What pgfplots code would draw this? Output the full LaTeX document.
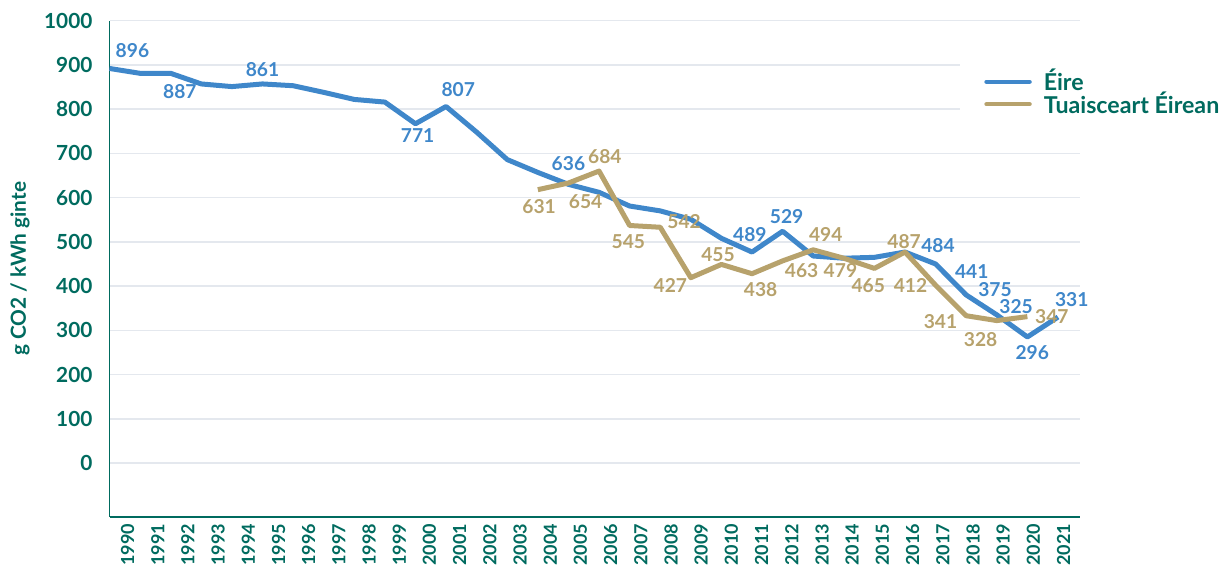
\documentclass[border=0pt]{standalone}
\usepackage{pgfplots}
\pgfplotsset{compat=1.18}
\usepackage{fontspec}
\setmainfont{Lato}
\definecolor{tealc}{HTML}{006B5F}
\definecolor{blueL}{HTML}{3F87CA}
\definecolor{goldL}{HTML}{B7A26C}
\definecolor{gridc}{HTML}{E4E8EE}
\begin{document}
\begin{tikzpicture}
\useasboundingbox (0,0) rectangle (615pt,285.5pt);
\begin{axis}[
  at={(54.75pt,27pt)}, anchor=south west,
  scale only axis, width=485.25pt, height=248.15pt,
  xmin=1990, xmax=2021.72, ymin=-122, ymax=1000,
  axis x line=bottom, axis y line=left,
  axis line style={tealc, line width=0.8pt, -},
  ytick={0,100,...,1000}, ymajorgrids,
  grid style={gridc, line width=0.75pt},
  xtick={1990.360,1991.347,1992.334,1993.321,1994.308,1995.295,1996.282,1997.268,1998.255,1999.242,2000.229,2001.216,2002.203,2003.190,2004.177,2005.164,2006.151,2007.138,2008.125,2009.111,2010.098,2011.085,2012.072,2013.059,2014.046,2015.033,2016.020,2017.007,2017.994,2018.981,2019.968,2020.955},
  xticklabels={1990,1991,1992,1993,1994,1995,1996,1997,1998,1999,2000,2001,2002,2003,2004,2005,2006,2007,2008,2009,2010,2011,2012,2013,2014,2015,2016,2017,2018,2019,2020,2021},
  major tick length=0pt,
  xticklabel style={rotate=90, anchor=east, yshift=-3.5pt, font=\fontsize{9}{10}\selectfont\bfseries, text=tealc},
  yticklabel style={anchor=east, xshift=-5pt, font=\fontsize{10.4}{11}\selectfont\bfseries, text=tealc},
  /pgf/number format/assume math mode=true,
  /pgf/number format/set thousands separator={},
  ylabel={g CO2 / kWh ginte},
  ylabel style={at={(axis description cs:0,0.5)}, yshift=44.75pt, anchor=center, font=\fontsize{10.4}{11}\selectfont\bfseries, text=tealc},
  legend style={at={(axis description cs:0.8763,0.951)}, anchor=north west, draw=none, fill=white,
    font=\fontsize{11.6}{13}\selectfont\bfseries, text=tealc, inner xsep=12pt, inner ysep=10pt, row sep=-5pt,
    /tikz/every odd column/.append style={column sep=4pt}},
  legend cell align=left,
  legend image code/.code={\draw[#1, line width=2.2pt, line cap=round] (0pt,0pt) -- (21.5pt,0pt);},
  clip=false,
]
\addplot[blueL, line width=2.5pt, line join=round] coordinates {
(1990,892)(1991,881)(1992,881)(1993,857)(1994,851)(1995,857)(1996,853)(1997,838)(1998,822)(1999,816)
(2000,767)(2001,806)(2002,748)(2003,686)(2004,657)(2005,630)(2006,612)(2007,581)(2008,570)(2009,551)
(2010,508)(2011,477)(2012,524)(2013,468)(2014,463)(2015,465)(2016,477)(2017,450)(2018,380)(2019,335)
(2020,285)(2021,330)};
\addlegendentry{Éire}
\addplot[goldL, line width=2.5pt, line join=round] coordinates {
(2004,618)(2005,633)(2006,660)(2007,537)(2008,533)(2009,419)(2010,449)(2011,428)(2012,457)(2013,482)
(2014,463)(2015,440)(2016,477)(2017,402)(2018,333)(2019,322)(2020,331)};
\addlegendentry{Tuaisceart Éirean}
\addplot[draw=none, forget plot, nodes near coords, point meta=explicit symbolic,
  every node near coord/.append style={anchor=center, font=\fontsize{9.6}{10}\selectfont\bfseries, text=blueL}]
  coordinates {
(1990.75,932)[896] (1992.3,840)[887] (1995.0,889)[861] (2000.07,740)[771] (2001.4,844)[807]
(2005.0,677)[636] (2010.93,517)[489] (2012.13,558)[529] (2017.08,492)[484] (2018.18,434)[441]
(2018.94,392)[375] (2019.63,354)[325] (2020.16,249)[296] (2021.45,370)[331]};
\addplot[draw=none, forget plot, nodes near coords, point meta=explicit symbolic,
  every node near coord/.append style={anchor=center, font=\fontsize{9.6}{10}\selectfont\bfseries, text=goldL}]
  coordinates {
(2004.04,579)[631] (2005.56,590)[654] (2006.19,693)[684] (2006.96,500)[545] (2008.78,545)[542]
(2008.33,402)[427] (2009.89,470)[455] (2011.28,392)[438] (2012.62,434)[463] (2013.41,517)[494]
(2013.89,436)[479] (2014.8,402)[465] (2016.18,402)[412] (2015.97,500)[487] (2017.16,319)[341]
(2018.47,279)[328] (2020.8,330)[347]};
\end{axis}
\end{tikzpicture}
\end{document}
